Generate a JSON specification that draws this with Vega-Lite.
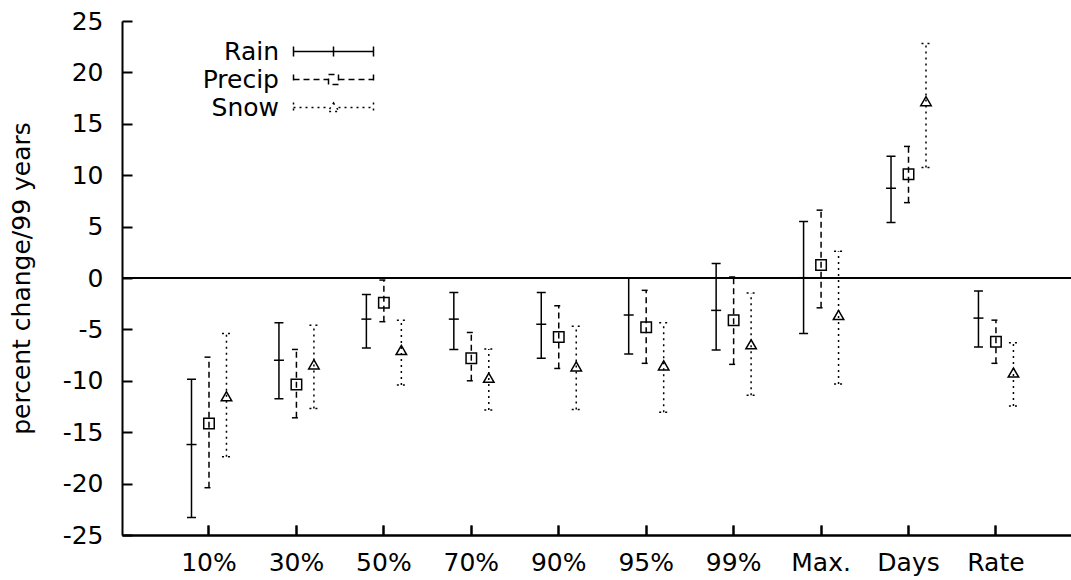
{
  "$schema": "https://vega.github.io/schema/vega-lite/v6.json",
  "width": 949,
  "height": 514,
  "autosize": {"type": "none"},
  "padding": {"left": 122, "top": 21, "right": 0, "bottom": 45},
  "background": "white",
  "config": {
    "view": {"stroke": null},
    "font": "DejaVu Sans",
    "axis": {
      "domainColor": "black",
      "domainWidth": 2,
      "tickColor": "black",
      "tickWidth": 2,
      "labelFont": "DejaVu Sans",
      "labelFontSize": 25,
      "labelColor": "black",
      "grid": false,
      "titleFont": "DejaVu Sans",
      "titleFontSize": 25,
      "titleFontWeight": "normal",
      "titleColor": "black"
    }
  },
  "data": {
    "values": [
      {"cat": "10%", "series": "Rain", "center": -16.2, "lo": -23.3, "hi": -9.85},
      {"cat": "10%", "series": "Precip", "center": -14.15, "lo": -20.4, "hi": -7.7},
      {"cat": "10%", "series": "Snow", "center": -11.5, "lo": -17.4, "hi": -5.4},
      {"cat": "30%", "series": "Rain", "center": -8.0, "lo": -11.75, "hi": -4.35},
      {"cat": "30%", "series": "Precip", "center": -10.35, "lo": -13.6, "hi": -6.95},
      {"cat": "30%", "series": "Snow", "center": -8.4, "lo": -12.7, "hi": -4.6},
      {"cat": "50%", "series": "Rain", "center": -4.0, "lo": -6.8, "hi": -1.6},
      {"cat": "50%", "series": "Precip", "center": -2.4, "lo": -4.25, "hi": -0.2},
      {"cat": "50%", "series": "Snow", "center": -7.0, "lo": -10.4, "hi": -4.1},
      {"cat": "70%", "series": "Rain", "center": -4.0, "lo": -6.95, "hi": -1.4},
      {"cat": "70%", "series": "Precip", "center": -7.8, "lo": -10.0, "hi": -5.3},
      {"cat": "70%", "series": "Snow", "center": -9.7, "lo": -12.85, "hi": -6.9},
      {"cat": "90%", "series": "Rain", "center": -4.5, "lo": -7.8, "hi": -1.4},
      {"cat": "90%", "series": "Precip", "center": -5.75, "lo": -8.8, "hi": -2.7},
      {"cat": "90%", "series": "Snow", "center": -8.6, "lo": -12.8, "hi": -4.7},
      {"cat": "95%", "series": "Rain", "center": -3.6, "lo": -7.4, "hi": 0.0},
      {"cat": "95%", "series": "Precip", "center": -4.8, "lo": -8.3, "hi": -1.2},
      {"cat": "95%", "series": "Snow", "center": -8.5, "lo": -13.05, "hi": -4.35},
      {"cat": "99%", "series": "Rain", "center": -3.15, "lo": -7.0, "hi": 1.4},
      {"cat": "99%", "series": "Precip", "center": -4.1, "lo": -8.4, "hi": 0.1},
      {"cat": "99%", "series": "Snow", "center": -6.45, "lo": -11.4, "hi": -1.45},
      {"cat": "Max.", "series": "Rain", "center": 0.03, "lo": -5.4, "hi": 5.5},
      {"cat": "Max.", "series": "Precip", "center": 1.27, "lo": -2.9, "hi": 6.6},
      {"cat": "Max.", "series": "Snow", "center": -3.6, "lo": -10.3, "hi": 2.6},
      {"cat": "Days", "series": "Rain", "center": 8.73, "lo": 5.4, "hi": 11.85},
      {"cat": "Days", "series": "Precip", "center": 10.1, "lo": 7.33, "hi": 12.8},
      {"cat": "Days", "series": "Snow", "center": 17.2, "lo": 10.75, "hi": 22.8},
      {"cat": "Rate", "series": "Rain", "center": -3.9, "lo": -6.7, "hi": -1.27},
      {"cat": "Rate", "series": "Precip", "center": -6.2, "lo": -8.3, "hi": -4.1},
      {"cat": "Rate", "series": "Snow", "center": -9.2, "lo": -12.45, "hi": -6.3}
    ]
  },
  "layer": [
    {
      "mark": {"type": "rule", "strokeWidth": 1, "color": "black"},
      "encoding": {
        "y": {"datum": 0, "type": "quantitative", "scale": {"domain": [-25, 25], "nice": false}, "axis": null}
      }
    },
    {
      "mark": {"type": "rule", "strokeWidth": 1.5, "color": "black"},
      "encoding": {
        "x": {
          "field": "cat", "type": "nominal",
          "sort": ["10%", "30%", "50%", "70%", "90%", "95%", "99%", "Max.", "Days", "Rate"],
          "scale": {"type": "band", "paddingInner": 0, "paddingOuter": 0.4266, "align": 0.58},
          "axis": {"orient": "bottom", "title": null, "labelAngle": 0, "ticks": false, "tickSize": 0, "labelPadding": 15, "domain": true}
        },
        "xOffset": {
          "field": "series", "type": "nominal", "sort": ["Rain", "Precip", "Snow"],
          "scale": {"paddingInner": 0, "paddingOuter": 1}
        },
        "y": {
          "field": "lo", "type": "quantitative",
          "scale": {"domain": [-25, 25], "nice": false},
          "axis": {"orient": "left", "title": "percent change/99 years", "values": [-25, -20, -15, -10, -5, 0, 5, 10, 15, 20, 25], "labelExpr": "'' + datum.value", "ticks": false, "tickSize": 0, "labelPadding": 19, "titlePadding": 28, "domain": true}
        },
        "y2": {"field": "hi"},
        "strokeDash": {
          "field": "series", "type": "nominal", "sort": ["Rain", "Precip", "Snow"],
          "scale": {"domain": ["Rain", "Precip", "Snow"], "range": [[1, 0], [6, 4], [2, 4]]},
          "legend": {
            "title": null,
            "orient": "none",
            "legendX": 199,
            "legendY": 18,
            "padding": 0,
            "symbolSize": 100,
            "rowPadding": 2,
            "labelAlign": "right",
            "labelOffset": -67,
            "labelFontSize": 25,
            "labelFont": "DejaVu Sans",
            "labelColor": "black",
            "symbolStrokeColor": "black",
            "symbolStrokeWidth": 1.5,
            "symbolFillColor": "transparent",
            "encode": {
              "symbols": {
                "update": {
                  "shape": {"signal": "datum.value === 'Rain' ? 'M-8,-1L-8,1M-8,0L8,0M8,-1L8,1M0,-1L0,1' : datum.value === 'Precip' ? 'M-8,-1L-8,1M-8,0L-1,0M1,0L8,0M8,-1L8,1M-1,-1L1,-1L1,1L-1,1Z' : 'M-8,-1L-8,1M-8,0L-1,0M1,0L8,0M8,-1L8,1M0,-0.9L1.1,0.8L-1.1,0.8Z'"}
                }
              }
            }
          }
        }
      }
    },
    {
      "mark": {"type": "point", "shape": "stroke", "size": 81, "strokeWidth": 1.5, "color": "black", "filled": false, "opacity": 1},
      "encoding": {
        "x": {
          "field": "cat", "type": "nominal",
          "sort": ["10%", "30%", "50%", "70%", "90%", "95%", "99%", "Max.", "Days", "Rate"],
          "axis": {"title": null, "labels": false, "domain": false, "ticks": true, "tickSize": 10, "offset": -514}
        },
        "xOffset": {"field": "series", "type": "nominal", "sort": ["Rain", "Precip", "Snow"]},
        "y": {
          "field": "lo", "type": "quantitative",
          "axis": {"title": null, "values": [-25, -20, -15, -10, -5, 0, 5, 10, 15, 20, 25], "labels": false, "domain": false, "ticks": true, "tickSize": 10, "offset": -949}
        },
        "strokeDash": {"field": "series", "type": "nominal", "sort": ["Rain", "Precip", "Snow"]}
      }
    },
    {
      "mark": {"type": "point", "shape": "stroke", "size": 81, "strokeWidth": 1.5, "color": "black", "filled": false, "opacity": 1},
      "encoding": {
        "x": {
          "field": "cat", "type": "nominal",
          "sort": ["10%", "30%", "50%", "70%", "90%", "95%", "99%", "Max.", "Days", "Rate"],
          "axis": {"title": null, "labels": false, "domain": true, "ticks": true, "tickSize": 10, "offset": -514}
        },
        "xOffset": {"field": "series", "type": "nominal", "sort": ["Rain", "Precip", "Snow"]},
        "y": {"field": "hi", "type": "quantitative", "axis": null},
        "strokeDash": {"field": "series", "type": "nominal", "sort": ["Rain", "Precip", "Snow"]}
      }
    },
    {
      "transform": [{"filter": "datum.series === 'Rain'"}],
      "mark": {"type": "point", "shape": "stroke", "size": 100, "strokeWidth": 1.5, "color": "black", "filled": false, "opacity": 1},
      "encoding": {
        "x": {"field": "cat", "type": "nominal", "sort": ["10%", "30%", "50%", "70%", "90%", "95%", "99%", "Max.", "Days", "Rate"], "axis": null},
        "xOffset": {"field": "series", "type": "nominal", "sort": ["Rain", "Precip", "Snow"]},
        "y": {"field": "center", "type": "quantitative", "axis": null}
      }
    },
    {
      "transform": [{"filter": "datum.series === 'Precip'"}],
      "mark": {"type": "point", "shape": "square", "size": 110, "strokeWidth": 1.5, "color": "black", "filled": false, "opacity": 1},
      "encoding": {
        "x": {"field": "cat", "type": "nominal", "sort": ["10%", "30%", "50%", "70%", "90%", "95%", "99%", "Max.", "Days", "Rate"], "axis": null},
        "xOffset": {"field": "series", "type": "nominal", "sort": ["Rain", "Precip", "Snow"]},
        "y": {"field": "center", "type": "quantitative", "axis": null}
      }
    },
    {
      "transform": [{"filter": "datum.series === 'Snow'"}],
      "mark": {"type": "point", "shape": "triangle-up", "size": 110, "strokeWidth": 1.5, "color": "black", "filled": false, "opacity": 1},
      "encoding": {
        "x": {"field": "cat", "type": "nominal", "sort": ["10%", "30%", "50%", "70%", "90%", "95%", "99%", "Max.", "Days", "Rate"], "axis": null},
        "xOffset": {"field": "series", "type": "nominal", "sort": ["Rain", "Precip", "Snow"]},
        "y": {"field": "center", "type": "quantitative", "axis": null}
      }
    }
  ],
  "resolve": {"axis": {"x": "independent", "y": "independent"}}
}
